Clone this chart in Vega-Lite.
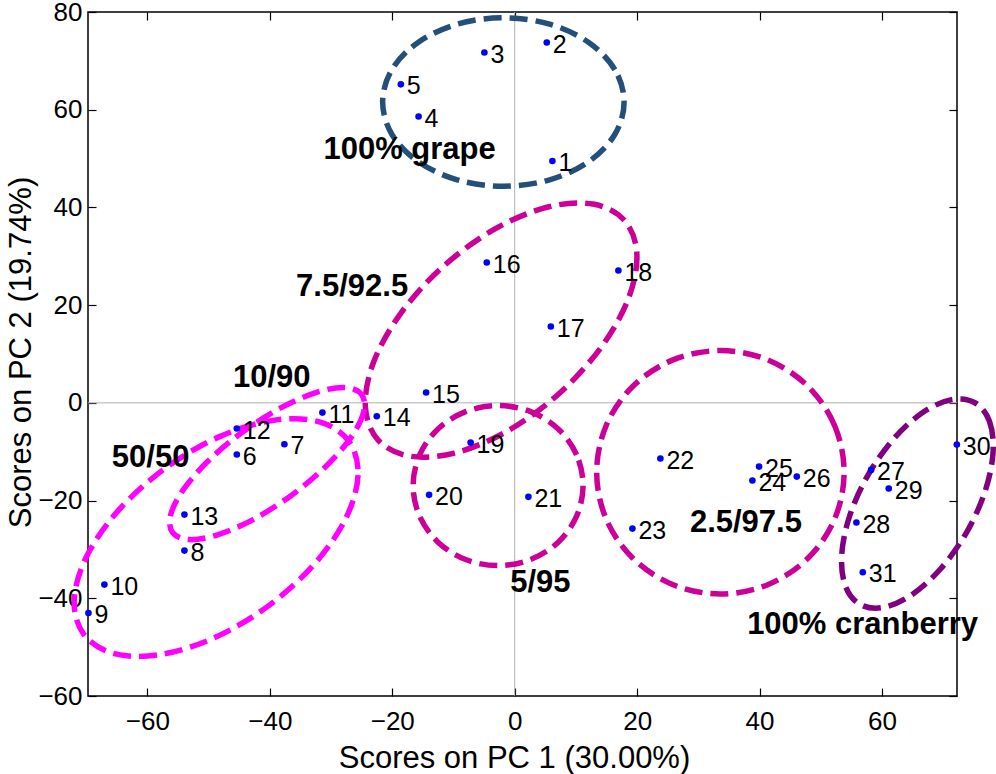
{
  "$schema": "https://vega.github.io/schema/vega-lite/v6.json",
  "width": 869,
  "height": 684,
  "padding": {"left": 88, "top": 12, "right": 39, "bottom": 78},
  "autosize": {"type": "none"},
  "background": "white",
  "config": {
    "view": {"stroke": "#000000", "strokeWidth": 1.5},
    "axis": {
      "labelFont": "Liberation Sans", "labelFontSize": 26, "labelColor": "#000000",
      "titleFont": "Liberation Sans", "titleFontSize": 31, "titleFontWeight": "normal", "titleColor": "#000000",
      "tickColor": "#000000", "tickWidth": 1.2, "tickSize": -8, "domain": false, "grid": false
    },
    "text": {"font": "Liberation Sans"}
  },
  "datasets": {
    "zero": [{"v": 0}],
    "pts": [
      {"id": "1", "x": 6.16, "y": 49.5}, {"id": "2", "x": 5.24, "y": 73.75}, {"id": "3", "x": -4.95, "y": 71.7},
      {"id": "4", "x": -15.7, "y": 58.6}, {"id": "5", "x": -18.6, "y": 65.2}, {"id": "6", "x": -45.39, "y": -10.58},
      {"id": "7", "x": -37.62, "y": -8.47}, {"id": "8", "x": -53.95, "y": -30.24}, {"id": "9", "x": -69.63, "y": -43.0},
      {"id": "10", "x": -67.02, "y": -37.2}, {"id": "11", "x": -31.41, "y": -1.99}, {"id": "12", "x": -45.39, "y": -5.26},
      {"id": "13", "x": -53.95, "y": -22.87}, {"id": "14", "x": -22.53, "y": -2.74}, {"id": "15", "x": -14.47, "y": 2.11},
      {"id": "16", "x": -4.56, "y": 28.72}, {"id": "17", "x": 5.9, "y": 15.62}, {"id": "18", "x": 16.94, "y": 27.08},
      {"id": "19", "x": -7.2, "y": -8.13}, {"id": "20", "x": -13.98, "y": -18.83}, {"id": "21", "x": 2.24, "y": -19.24},
      {"id": "22", "x": 23.8, "y": -11.4}, {"id": "23", "x": 19.23, "y": -25.73}, {"id": "24", "x": 38.83, "y": -15.9},
      {"id": "25", "x": 39.92, "y": -13.04}, {"id": "26", "x": 46.08, "y": -15.09}, {"id": "27", "x": 58.22, "y": -13.72},
      {"id": "28", "x": 55.82, "y": -24.5}, {"id": "29", "x": 61.1, "y": -17.54}, {"id": "30", "x": 72.22, "y": -8.54},
      {"id": "31", "x": 56.86, "y": -34.68}
    ],
    "ell": [
      {"g": "grape", "i": 0, "x": 17.87, "y": 61.58}, {"g": "grape", "i": 1, "x": 16.37, "y": 68.18},
      {"g": "grape", "i": 2, "x": 12.1, "y": 73.77}, {"g": "grape", "i": 3, "x": 5.7, "y": 77.51},
      {"g": "grape", "i": 4, "x": -1.85, "y": 78.82}, {"g": "grape", "i": 5, "x": -9.39, "y": 77.51},
      {"g": "grape", "i": 6, "x": -15.79, "y": 73.77}, {"g": "grape", "i": 7, "x": -20.07, "y": 68.18},
      {"g": "grape", "i": 8, "x": -21.57, "y": 61.58}, {"g": "grape", "i": 9, "x": -20.07, "y": 54.98},
      {"g": "grape", "i": 10, "x": -15.79, "y": 49.39}, {"g": "grape", "i": 11, "x": -9.39, "y": 45.65},
      {"g": "grape", "i": 12, "x": -1.85, "y": 44.34}, {"g": "grape", "i": 13, "x": 5.7, "y": 45.65},
      {"g": "grape", "i": 14, "x": 12.1, "y": 49.39}, {"g": "grape", "i": 15, "x": 16.37, "y": 54.98},

      {"g": "g75", "i": 0, "x": 17.9, "y": 37.37}, {"g": "g75", "i": 1, "x": 19.95, "y": 30.63},
      {"g": "g75", "i": 2, "x": 18.62, "y": 21.5}, {"g": "g75", "i": 3, "x": 14.11, "y": 11.36},
      {"g": "g75", "i": 4, "x": 7.13, "y": 1.76}, {"g": "g75", "i": 5, "x": -1.29, "y": -5.84},
      {"g": "g75", "i": 6, "x": -9.84, "y": -10.28}, {"g": "g75", "i": 7, "x": -17.23, "y": -10.89},
      {"g": "g75", "i": 8, "x": -22.34, "y": -7.57}, {"g": "g75", "i": 9, "x": -24.39, "y": -0.83},
      {"g": "g75", "i": 10, "x": -23.06, "y": 8.3}, {"g": "g75", "i": 11, "x": -18.55, "y": 18.44},
      {"g": "g75", "i": 12, "x": -11.57, "y": 28.04}, {"g": "g75", "i": 13, "x": -3.15, "y": 35.64},
      {"g": "g75", "i": 14, "x": 5.4, "y": 40.08}, {"g": "g75", "i": 15, "x": 12.79, "y": 40.69},

      {"g": "g50", "i": 0, "x": -27.1, "y": -7.84}, {"g": "g50", "i": 1, "x": -25.59, "y": -14.79},
      {"g": "g50", "i": 2, "x": -27.61, "y": -23.69}, {"g": "g50", "i": 3, "x": -32.85, "y": -33.18},
      {"g": "g50", "i": 4, "x": -40.51, "y": -41.81}, {"g": "g50", "i": 5, "x": -49.43, "y": -48.28},
      {"g": "g50", "i": 6, "x": -58.25, "y": -51.59}, {"g": "g50", "i": 7, "x": -65.63, "y": -51.25},
      {"g": "g50", "i": 8, "x": -70.44, "y": -47.3}, {"g": "g50", "i": 9, "x": -71.95, "y": -40.35},
      {"g": "g50", "i": 10, "x": -69.93, "y": -31.45}, {"g": "g50", "i": 11, "x": -64.69, "y": -21.96},
      {"g": "g50", "i": 12, "x": -57.03, "y": -13.33}, {"g": "g50", "i": 13, "x": -48.11, "y": -6.86},
      {"g": "g50", "i": 14, "x": -39.29, "y": -3.55}, {"g": "g50", "i": 15, "x": -31.91, "y": -3.89},

      {"g": "g10", "i": 0, "x": -24.98, "y": 1.65}, {"g": "g10", "i": 1, "x": -24.69, "y": -1.95},
      {"g": "g10", "i": 2, "x": -26.79, "y": -7.16}, {"g": "g10", "i": 3, "x": -30.98, "y": -13.16},
      {"g": "g10", "i": 4, "x": -36.6, "y": -19.05}, {"g": "g10", "i": 5, "x": -42.81, "y": -23.94},
      {"g": "g10", "i": 6, "x": -48.66, "y": -27.07}, {"g": "g10", "i": 7, "x": -53.25, "y": -27.98},
      {"g": "g10", "i": 8, "x": -55.9, "y": -26.51}, {"g": "g10", "i": 9, "x": -56.19, "y": -22.91},
      {"g": "g10", "i": 10, "x": -54.09, "y": -17.7}, {"g": "g10", "i": 11, "x": -49.91, "y": -11.7},
      {"g": "g10", "i": 12, "x": -44.28, "y": -5.81}, {"g": "g10", "i": 13, "x": -38.07, "y": -0.92},
      {"g": "g10", "i": 14, "x": -32.23, "y": 2.21}, {"g": "g10", "i": 15, "x": -27.63, "y": 3.12},

      {"g": "g5", "i": 0, "x": 11.17, "y": -16.93}, {"g": "g5", "i": 1, "x": 10.11, "y": -10.66},
      {"g": "g5", "i": 2, "x": 7.11, "y": -5.35}, {"g": "g5", "i": 3, "x": 2.6, "y": -1.8},
      {"g": "g5", "i": 4, "x": -2.71, "y": -0.55}, {"g": "g5", "i": 5, "x": -8.02, "y": -1.8},
      {"g": "g5", "i": 6, "x": -12.53, "y": -5.35}, {"g": "g5", "i": 7, "x": -15.53, "y": -10.66},
      {"g": "g5", "i": 8, "x": -16.59, "y": -16.93}, {"g": "g5", "i": 9, "x": -15.53, "y": -23.2},
      {"g": "g5", "i": 10, "x": -12.53, "y": -28.51}, {"g": "g5", "i": 11, "x": -8.02, "y": -32.06},
      {"g": "g5", "i": 12, "x": -2.71, "y": -33.31}, {"g": "g5", "i": 13, "x": 2.6, "y": -32.06},
      {"g": "g5", "i": 14, "x": 7.11, "y": -28.51}, {"g": "g5", "i": 15, "x": 10.11, "y": -23.2},

      {"g": "g25", "i": 0, "x": 53.81, "y": -14.21}, {"g": "g25", "i": 1, "x": 52.27, "y": -4.68},
      {"g": "g25", "i": 2, "x": 47.89, "y": 3.4}, {"g": "g25", "i": 3, "x": 41.33, "y": 8.8},
      {"g": "g25", "i": 4, "x": 33.6, "y": 10.7}, {"g": "g25", "i": 5, "x": 25.87, "y": 8.8},
      {"g": "g25", "i": 6, "x": 19.31, "y": 3.4}, {"g": "g25", "i": 7, "x": 14.93, "y": -4.68},
      {"g": "g25", "i": 8, "x": 13.39, "y": -14.21}, {"g": "g25", "i": 9, "x": 14.93, "y": -23.74},
      {"g": "g25", "i": 10, "x": 19.31, "y": -31.82}, {"g": "g25", "i": 11, "x": 25.87, "y": -37.22},
      {"g": "g25", "i": 12, "x": 33.6, "y": -39.12}, {"g": "g25", "i": 13, "x": 41.33, "y": -37.22},
      {"g": "g25", "i": 14, "x": 47.89, "y": -31.82}, {"g": "g25", "i": 15, "x": 52.27, "y": -23.74},

      {"g": "cran", "i": 0, "x": 75.17, "y": 0.02}, {"g": "cran", "i": 1, "x": 77.55, "y": -3.76},
      {"g": "cran", "i": 2, "x": 78.14, "y": -10.11}, {"g": "cran", "i": 3, "x": 76.85, "y": -18.06},
      {"g": "cran", "i": 4, "x": 73.87, "y": -26.39}, {"g": "cran", "i": 5, "x": 69.66, "y": -33.85},
      {"g": "cran", "i": 6, "x": 64.86, "y": -39.29}, {"g": "cran", "i": 7, "x": 60.2, "y": -41.88},
      {"g": "cran", "i": 8, "x": 56.39, "y": -41.24}, {"g": "cran", "i": 9, "x": 54.01, "y": -37.46},
      {"g": "cran", "i": 10, "x": 53.42, "y": -31.11}, {"g": "cran", "i": 11, "x": 54.71, "y": -23.16},
      {"g": "cran", "i": 12, "x": 57.69, "y": -14.83}, {"g": "cran", "i": 13, "x": 61.9, "y": -7.37},
      {"g": "cran", "i": 14, "x": 66.7, "y": -1.93}, {"g": "cran", "i": 15, "x": 71.36, "y": 0.66}
    ],
    "grp": [
      {"t": "100% grape", "x": -17.17, "y": 49.95},
      {"t": "7.5/92.5", "x": -26.56, "y": 21.97},
      {"t": "10/90", "x": -39.68, "y": 3.34},
      {"t": "50/50", "x": -59.47, "y": -13.18},
      {"t": "5/95", "x": 4.2, "y": -38.77},
      {"t": "2.5/97.5", "x": 37.77, "y": -26.49},
      {"t": "100% cranberry", "x": 56.83, "y": -47.29}
    ]
  },
  "resolve": {"axis": {"x": "independent", "y": "independent"}},
  "layer": [
    {
      "data": {"name": "zero"},
      "mark": {"type": "rule", "color": "#b0b0b0", "strokeWidth": 1},
      "encoding": {
        "x": {"field": "v", "type": "quantitative",
              "scale": {"domain": [-69.7, 72.25], "nice": false, "zero": false},
              "axis": {"orient": "top", "labels": false, "title": null, "values": [-60, -40, -20, 0, 20, 40, 60]}}
      }
    },
    {
      "data": {"name": "zero"},
      "mark": {"type": "rule", "color": "#b0b0b0", "strokeWidth": 1},
      "encoding": {
        "y": {"field": "v", "type": "quantitative",
              "scale": {"domain": [-60, 80], "nice": false, "zero": false},
              "axis": {"orient": "right", "labels": false, "title": null, "values": [-60, -40, -20, 0, 20, 40, 60, 80]}}
      }
    },
    {
      "data": {"name": "ell"},
      "mark": {"type": "line", "interpolate": "cardinal-closed", "strokeWidth": 5.5, "strokeDash": [18, 8]},
      "encoding": {
        "x": {"field": "x", "type": "quantitative", "scale": {"domain": [-69.7, 72.25], "nice": false, "zero": false}, "axis": null},
        "y": {"field": "y", "type": "quantitative", "scale": {"domain": [-60, 80], "nice": false, "zero": false}, "axis": null},
        "color": {"field": "g", "type": "nominal", "legend": null,
                  "scale": {"domain": ["grape", "g75", "g50", "g10", "g5", "g25", "cran"],
                            "range": ["#234f7a", "#cc0099", "#ff00ff", "#ff00ff", "#cc0099", "#cc0099", "#800080"]}},
        "order": {"field": "i", "type": "quantitative"}
      }
    },
    {
      "data": {"name": "pts"},
      "mark": {"type": "point", "filled": true, "color": "#0000ff", "size": 44, "opacity": 1, "strokeWidth": 0},
      "encoding": {
        "x": {"field": "x", "type": "quantitative", "scale": {"domain": [-69.7, 72.25], "nice": false, "zero": false},
              "axis": {"orient": "bottom", "title": "Scores on PC 1 (30.00%)", "values": [-60, -40, -20, 0, 20, 40, 60],
                       "labelPadding": 20, "titleX": 426, "titleY": 71, "titleBaseline": "alphabetic", "titleAnchor": "middle", "titleAlign": "center"}},
        "y": {"field": "y", "type": "quantitative", "scale": {"domain": [-60, 80], "nice": false, "zero": false},
              "axis": {"orient": "left", "title": "Scores on PC 2 (19.74%)", "values": [-60, -40, -20, 0, 20, 40, 60, 80],
                       "labelPadding": 14, "titleX": -58, "titleY": 340, "titleBaseline": "alphabetic", "titleAngle": -90, "titleAlign": "center"}}
      }
    },
    {
      "data": {"name": "pts"},
      "mark": {"type": "text", "align": "left", "baseline": "alphabetic", "dx": 6, "dy": 10, "fontSize": 25, "color": "#000000", "font": "Liberation Sans"},
      "encoding": {
        "x": {"field": "x", "type": "quantitative", "scale": {"domain": [-69.7, 72.25], "nice": false, "zero": false}, "axis": null},
        "y": {"field": "y", "type": "quantitative", "scale": {"domain": [-60, 80], "nice": false, "zero": false}, "axis": null},
        "text": {"field": "id", "type": "nominal"}
      }
    },
    {
      "data": {"name": "grp"},
      "mark": {"type": "text", "align": "center", "baseline": "alphabetic", "fontSize": 31, "fontWeight": "bold", "color": "#000000", "font": "Liberation Sans"},
      "encoding": {
        "x": {"field": "x", "type": "quantitative", "scale": {"domain": [-69.7, 72.25], "nice": false, "zero": false}, "axis": null},
        "y": {"field": "y", "type": "quantitative", "scale": {"domain": [-60, 80], "nice": false, "zero": false}, "axis": null},
        "text": {"field": "t", "type": "nominal"}
      }
    }
  ]
}
